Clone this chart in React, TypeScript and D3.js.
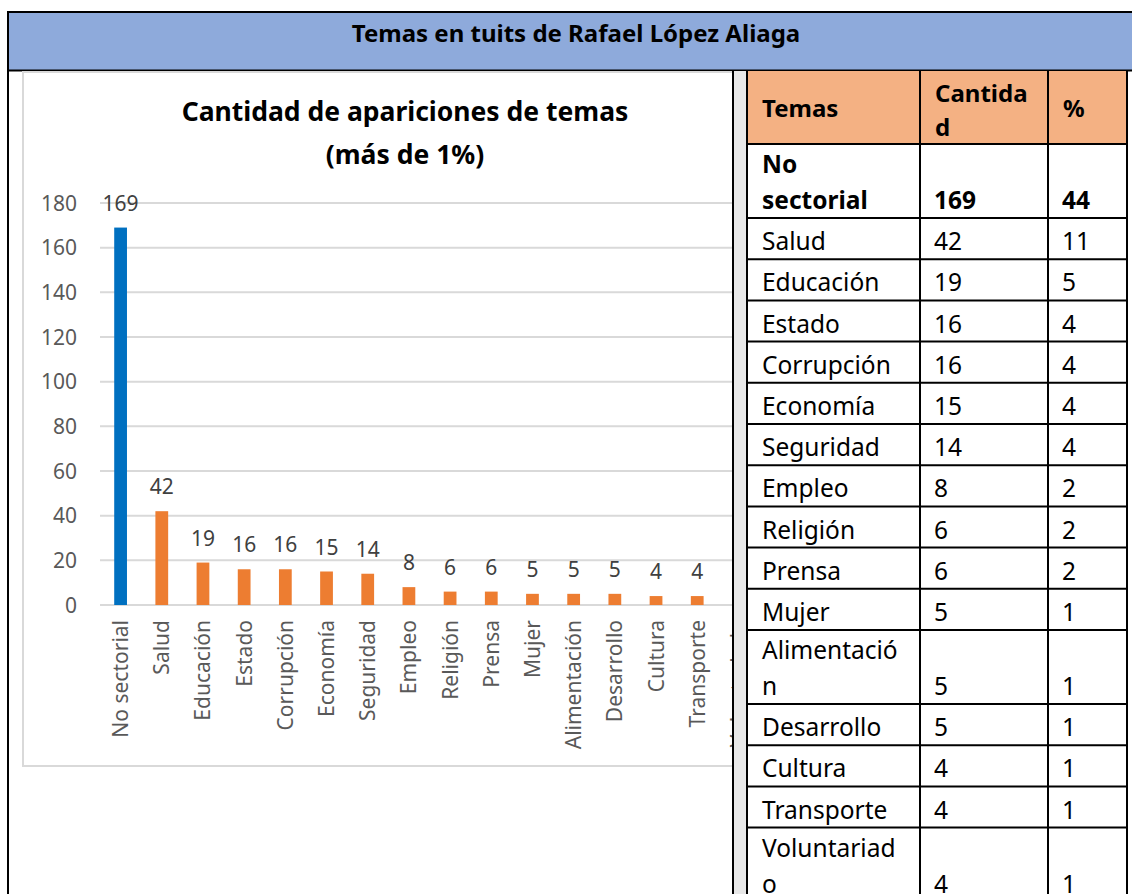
import React from "react";
import * as d3 from "d3";

const categories = ["No sectorial", "Salud", "Educación", "Estado", "Corrupción", "Economía", "Seguridad", "Empleo", "Religión", "Prensa", "Mujer", "Alimentación", "Desarrollo", "Cultura", "Transporte", "Voluntariado"];
const cantidad = [169, 42, 19, 16, 16, 15, 14, 8, 6, 6, 5, 5, 5, 4, 4, 4];
const porcentaje = [44, 11, 5, 4, 4, 4, 4, 2, 2, 2, 1, 1, 1, 1, 1, 1];
const yTicks = [0, 20, 40, 60, 80, 100, 120, 140, 160, 180];
const tableLabels = [["No", "sectorial"], ["Salud"], ["Educación"], ["Estado"], ["Corrupción"], ["Economía"], ["Seguridad"], ["Empleo"], ["Religión"], ["Prensa"], ["Mujer"], ["Alimentació", "n"], ["Desarrollo"], ["Cultura"], ["Transporte"], ["Voluntariad", "o"]];
const headerCols = [["Temas"], ["Cantida", "d"], ["%"]];

const mainTitle = "Temas en tuits de Rafael López Aliaga";
const chartTitle = ["Cantidad de apariciones de temas", "(más de 1%)"];

const FONT = "'Noto Sans', 'Open Sans', sans-serif";

export default function App() {
  const x = d3.scaleBand<string>().domain(categories).range([100, 759]).paddingInner(0.69).paddingOuter(0.345);
  const y = d3.scaleLinear().domain([0, 180]).range([605, 203]);

  // table geometry
  const tLeft = 747, tRight = 1127;
  const colX = [tLeft, 920, 1048, tRight];
  const headerTop = 71, headerH = 73;
  const singleH = 41.2, doubleH = 74;
  const rowTops: number[] = [];
  let cur = headerTop + headerH;
  tableLabels.forEach((l) => {
    rowTops.push(cur);
    cur += l.length > 1 ? doubleH : singleH;
  });
  const rowBottoms = tableLabels.map((l, i) => rowTops[i] + (l.length > 1 ? doubleH : singleH));

  return (
    <svg width={1132} height={894} style={{ position: "absolute", left: 0, top: 0, background: "#fff" }} fontFamily={FONT}>
      <defs>
        <clipPath id="chartClip">
          <rect x={8} y={71} width={724} height={823} />
        </clipPath>
      </defs>
      {/* title bar */}
      <rect x={8} y={12} width={1124} height={58} fill="#8eaadb" />
      <line x1={8} x2={1132} y1={12} y2={12} stroke="#000" strokeWidth={2} />
      <line x1={8} x2={1132} y1={70.5} y2={70.5} stroke="#000" strokeWidth={2} />
      <line x1={8} x2={8} y1={11} y2={894} stroke="#000" strokeWidth={2} />
      <text x={576} y={42} textAnchor="middle" fontWeight="bold" fontSize={24} fill="#000">{mainTitle}</text>

      {/* chart */}
      <g clipPath="url(#chartClip)">
        <rect x={23} y={72} width={740} height={694} fill="#fff" stroke="#d9d9d9" strokeWidth={2} />
        {chartTitle.map((t, i) => (
          <text key={t} x={405} y={121 + i * 43} textAnchor="middle" fontWeight="bold" fontSize={26.5} fill="#000">{t}</text>
        ))}
        {yTicks.map((t) => (
          <g key={t}>
            <line x1={100} x2={760} y1={y(t)} y2={y(t)} stroke="#d9d9d9" strokeWidth={2} />
            <text x={77} y={y(t) + 7.5} textAnchor="end" fontSize={21} fill="#595959">{t}</text>
          </g>
        ))}
        {categories.map((c, i) => {
          const bx = x(c) as number;
          const bw = x.bandwidth();
          const cx = bx + bw / 2;
          return (
            <g key={c}>
              <rect x={bx} y={y(cantidad[i])} width={bw} height={y(0) - y(cantidad[i])} fill={i === 0 ? "#0070c0" : "#ed7d31"} />
              <text x={cx} y={y(cantidad[i]) - 17} textAnchor="middle" fontSize={21} fill="#404040">{cantidad[i]}</text>
              <text transform={`translate(${cx + 7.5},620) rotate(-90)`} textAnchor="end" fontSize={21} fill="#595959">{c}</text>
            </g>
          );
        })}
      </g>

      {/* separator */}
      <rect x={734} y={71} width={13} height={823} fill="#e8e8e8" />
      <line x1={733} x2={733} y1={71} y2={894} stroke="#000" strokeWidth={2} />

      {/* table */}
      <rect x={tLeft} y={headerTop} width={tRight - tLeft} height={headerH} fill="#f4b183" />
      {headerCols.map((lines, ci) => (
        <text key={ci} fontWeight="bold" fontSize={24} fill="#000">
          {lines.map((ln, li) => (
            <tspan key={li} x={colX[ci] + 15} y={lines.length > 1 ? 102 + li * 34 : 117}>{ln}</tspan>
          ))}
        </text>
      ))}
      {tableLabels.map((lines, i) => {
        const bottom = rowBottoms[i];
        const base = bottom - 9;
        const bold = i === 0 ? "bold" : "normal";
        return (
          <g key={i} fontSize={24.5} fill="#000" fontWeight={bold}>
            {lines.map((ln, li) => (
              <text key={li} x={colX[0] + 15} y={base - (lines.length - 1 - li) * 36}>{ln}</text>
            ))}
            <text x={colX[1] + 14} y={base}>{cantidad[i]}</text>
            <text x={colX[2] + 14} y={base}>{porcentaje[i]}</text>
          </g>
        );
      })}
      {/* table lines */}
      {[headerTop + headerH, ...rowBottoms].map((yy, i) => (
        <line key={"h" + i} x1={tLeft} x2={tRight} y1={yy} y2={yy} stroke="#000" strokeWidth={2} />
      ))}
      {colX.map((xx, i) => (
        <line key={"v" + i} x1={xx} x2={xx} y1={headerTop} y2={894} stroke="#000" strokeWidth={2} />
      ))}
    </svg>
  );
}
